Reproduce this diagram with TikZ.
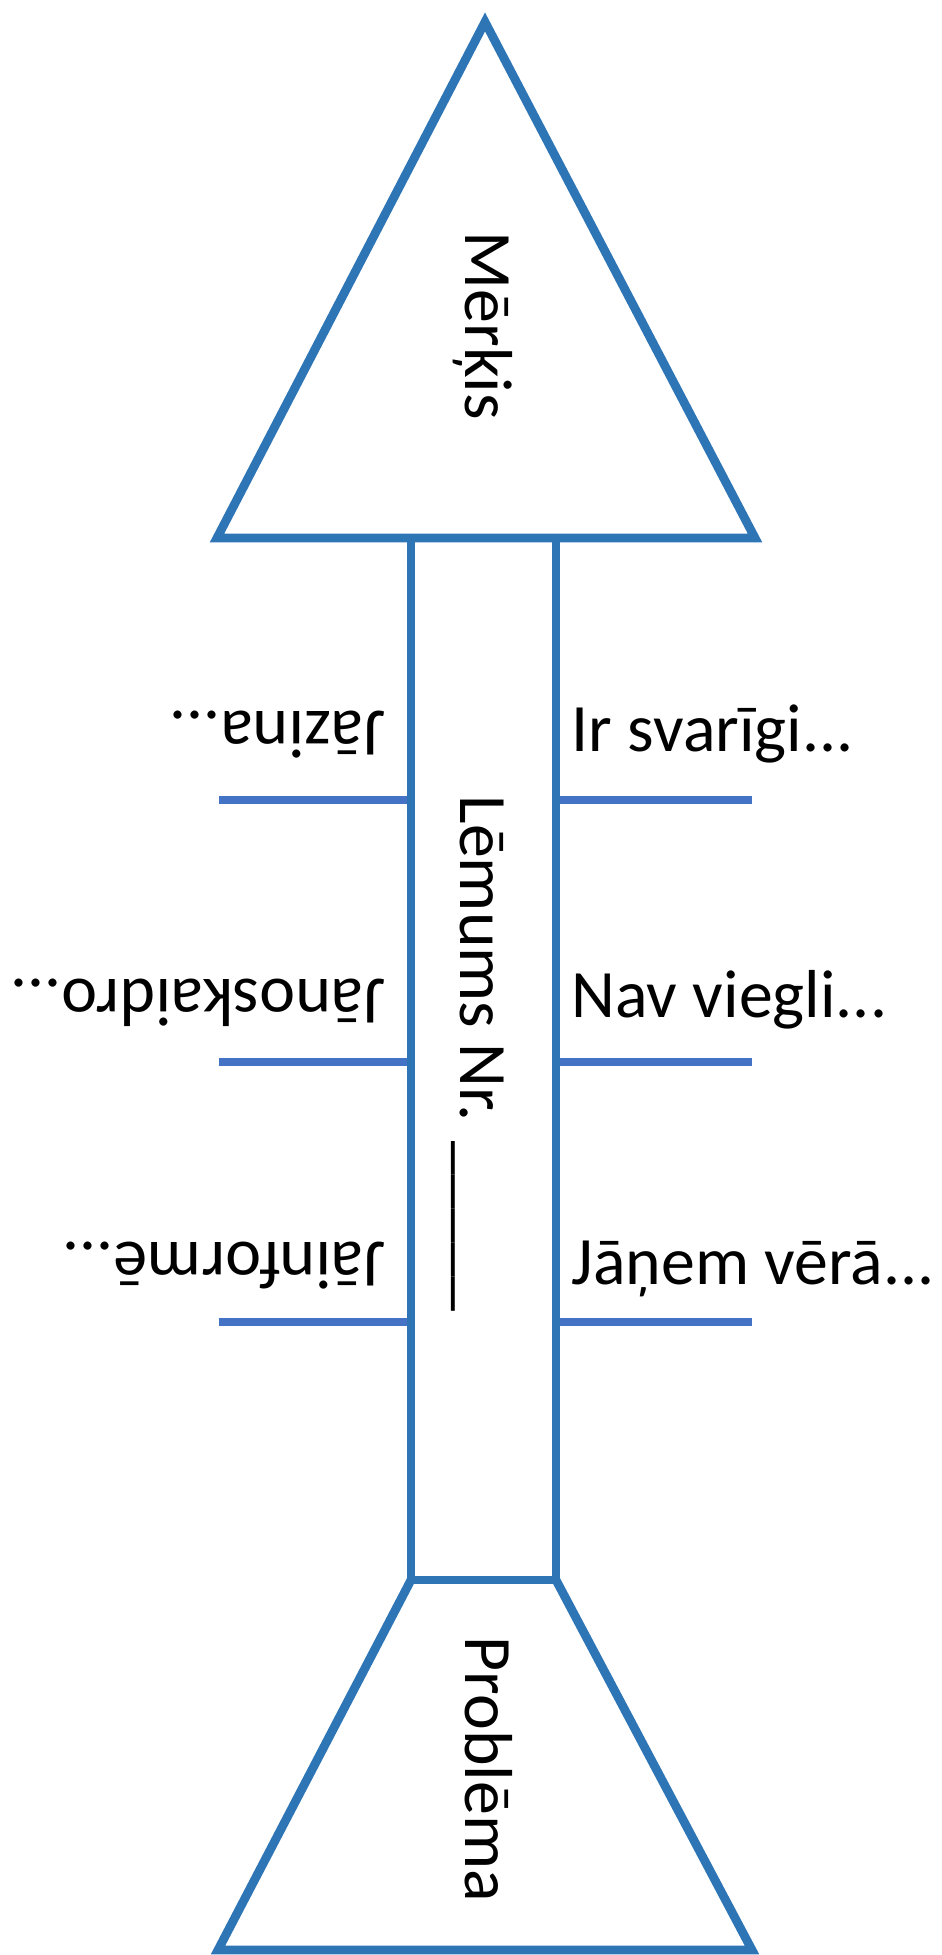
\documentclass[tikz,border=0pt]{standalone}
\usepackage{fontspec}
\setmainfont{Carlito}
\definecolor{shapeblue}{RGB}{46,117,182}
\definecolor{branchblue}{RGB}{68,114,196}
\begin{document}
\begin{tikzpicture} [outline/.style={draw=shapeblue,line width=2.5pt},
	branch/.style={draw=branchblue,line width=2.5pt},
	txt/.style={font=\fontsize{19.3}{23}\selectfont,inner sep=0pt,anchor=base west}]
	\fill[white] (0,0) rectangle (9.42,19.55);

	% side branches
	\foreach \y in {11.55,8.93,6.33} {
		\draw[branch] (2.19,\y) -- (4.11,\y);
		\draw[branch] (5.56,\y) -- (7.52,\y);
	}

	% arrow head, stem and base
	\coordinate (apex) at (4.85,19.33);
	\draw[outline] (2.17,14.17) -- (apex) -- (7.55,14.17) -- cycle;
	\draw[outline] (4.11,14.17) -- (4.11,3.75) -- (5.56,3.75) -- (5.56,14.17);
	\draw[outline] (4.11,3.75) -- (2.18,0.05) -- (7.52,0.05) -- (5.56,3.75);

	\node (goal) at (4.65,17.24)[txt,rotate=-90] {Mērķis};
	\node (decision) at (4.60,11.60)[txt,rotate=-90] {Lēmums Nr. \_\_\_\_\_};
	\node (problem) at (4.65,3.19)[txt,rotate=-90] {Problēma};

	\node (important) at (5.71,12.03)[txt] {Ir svarīgi...};
	\node (noteasy) at (5.71,9.37)[txt] {Nav viegli...};
	\node (consider) at (5.71,6.70)[txt] {Jāņem vērā...};

	\node (know) at (3.86,12.43)[txt,rotate=180] {Jāzina...};
	\node (clarify) at (3.86,9.75)[txt,rotate=180] {Jānoskaidro...};
	\node (inform) at (3.86,7.12)[txt,rotate=180] {Jāinformē...};
\end{tikzpicture}
\end{document}
